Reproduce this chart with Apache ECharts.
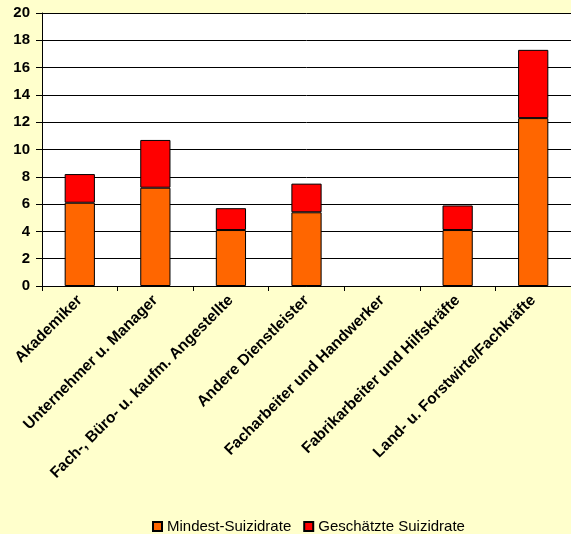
<!DOCTYPE html>
<html>
<head>
  <meta charset="utf-8">
  <title>Suizidrate nach Beruf</title>
  <script src="https://cdn.jsdelivr.net/npm/echarts@6/dist/echarts.min.js"></script>
  <style>
    html, body { margin: 0; padding: 0; background: #ffffcc; }
    #chart { width: 571px; height: 534px; }
  </style>
</head>
<body>
<div id="chart"></div>
<script>
  var categories = ['Akademiker', 'Unternehmer u. Manager', 'Fach-, Büro- u. kaufm. Angestellte',
    'Andere Dienstleister', 'Facharbeiter und Handwerker', 'Fabrikarbeiter und Hilfskräfte',
    'Land- u. Forstwirte/Fachkräfte'];
  // null = kein Wert (Facharbeiter)
  var mindest = [6.1, 7.2, 4.1, 5.4, null, 4.1, 12.3];
  var geschaetzt = [2.1, 3.5, 1.6, 2.1, null, 1.8, 5.0];

  var chart = echarts.init(document.getElementById('chart'));
  var font = 'Liberation Sans, Arial, sans-serif';

  chart.setOption({
    backgroundColor: '#ffffcc',
    animation: false,
    grid: { left: 42, top: 13, width: 532, height: 273, containLabel: false, show: true, backgroundColor: '#ffffff', borderWidth: 0 },
    legend: {
      top: 514,
      left: 147,
      itemWidth: 9,
      itemHeight: 9,
      itemGap: 12,
      icon: 'rect',
      textStyle: { fontFamily: font, fontSize: 15, color: '#000' },
      data: ['Mindest-Suizidrate', 'Geschätzte Suizidrate']
    },
    xAxis: {
      type: 'category',
      data: categories,
      axisLine: { lineStyle: { color: '#000', width: 1 } },
      axisTick: { show: true, length: 5, lineStyle: { color: '#000' } },
      axisLabel: {
        rotate: 45,
        interval: 0,
        fontFamily: font,
        fontWeight: 'bold',
        fontSize: 15.5,
        color: '#000',
        margin: 12
      }
    },
    yAxis: {
      type: 'value',
      min: 0,
      max: 20,
      interval: 2,
      axisLine: { show: true, lineStyle: { color: '#000' } },
      axisTick: { show: true, length: 6, lineStyle: { color: '#000' } },
      splitLine: { lineStyle: { color: '#000', width: 1 } },
      axisLabel: {
        fontFamily: font,
        fontWeight: 'bold',
        fontSize: 15,
        color: '#000',
        margin: 12
      }
    },
    series: [
      {
        name: 'Mindest-Suizidrate',
        type: 'bar',
        stack: 'rate',
        barWidth: '40%',
        data: mindest,
        itemStyle: { color: '#ff6600', borderColor: '#000', borderWidth: 1 }
      },
      {
        name: 'Geschätzte Suizidrate',
        type: 'bar',
        stack: 'rate',
        barWidth: '40%',
        data: geschaetzt,
        itemStyle: { color: '#ff0000', borderColor: '#000', borderWidth: 1 }
      }
    ]
  });
</script>
</body>
</html>
